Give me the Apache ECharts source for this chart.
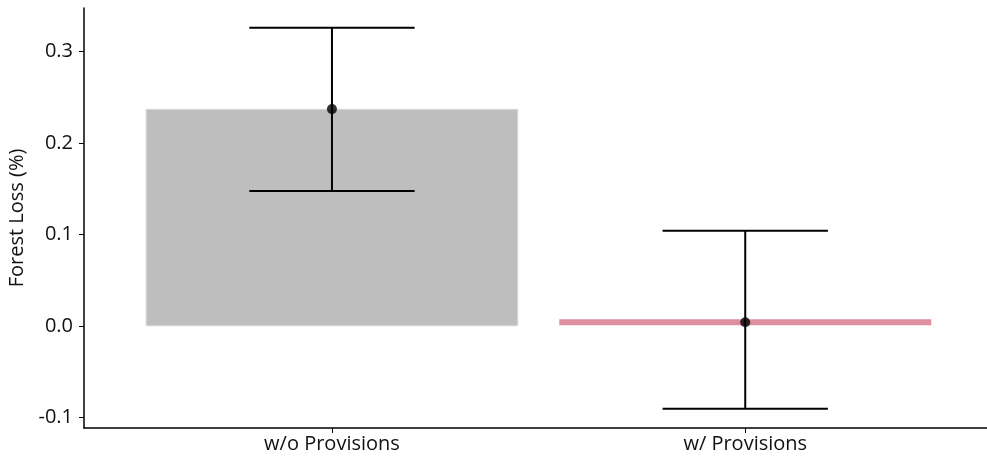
<!DOCTYPE html>
<html>
<head>
<meta charset="utf-8">
<script src="https://cdn.jsdelivr.net/npm/echarts@6/dist/echarts.min.js"></script>
<style>
  html, body { margin: 0; padding: 0; background: #fff; }
  #chart { width: 987px; height: 460px; }
</style>
</head>
<body>
<div id="chart"></div>
<script>
var categories = ['w/o Provisions', 'w/ Provisions'];
var xPos = [1, 2];
var means = [0.237, 0.004];
var lower = [0.1475, -0.0905];
var upper = [0.326, 0.104];
var yTicks = [-0.1, 0.0, 0.1, 0.2, 0.3];

var fontFam = '"Open Sans", sans-serif';

// gray bar for first group, pink segment for the second
function renderBar(params, api) {
    var x = api.value(0);
    var v = api.value(1);
    var idx = params.dataIndex;
    var half = 0.45;
    if (idx === 0) {
        var p1 = api.coord([x - half, v]);
        var p2 = api.coord([x + half, 0]);
        return {
            type: 'rect',
            shape: { x: p1[0], y: p1[1], width: p2[0] - p1[0], height: p2[1] - p1[1] },
            style: { fill: '#bebebe', stroke: '#e6e6e6', lineWidth: 1 }
        };
    }
    var a = api.coord([x - half, v]);
    var b = api.coord([x + half, v]);
    return {
        type: 'rect',
        shape: { x: a[0], y: a[1] - 3, width: b[0] - a[0], height: 6 },
        style: { fill: '#de8f9e' }
    };
}

function renderErr(params, api) {
    var x = api.value(0);
    var lo = api.coord([x, api.value(1)]);
    var hi = api.coord([x, api.value(2)]);
    var capL = api.coord([x - 0.2, 0])[0];
    var capR = api.coord([x + 0.2, 0])[0];
    var st = { stroke: '#000', lineWidth: 2 };
    return {
        type: 'group',
        children: [
            { type: 'line', shape: { x1: lo[0], y1: lo[1], x2: hi[0], y2: hi[1] }, style: st },
            { type: 'line', shape: { x1: capL, y1: lo[1], x2: capR, y2: lo[1] }, style: st },
            { type: 'line', shape: { x1: capL, y1: hi[1], x2: capR, y2: hi[1] }, style: st }
        ]
    };
}

var barData = [], errData = [], ptData = [];
for (var i = 0; i < categories.length; i++) {
    barData.push([xPos[i], means[i]]);
    errData.push([xPos[i], lower[i], upper[i]]);
    ptData.push([xPos[i], means[i]]);
}

var myChart = echarts.init(document.getElementById('chart'));
var option = {
    animation: false,
    grid: { left: 84, right: 0, top: 8, bottom: 32, outerBoundsMode: 'none' },
    xAxis: {
        type: 'value',
        min: 0.4,
        max: 2.585,
        splitLine: { show: false },
        axisLine: { show: true, onZero: false, lineStyle: { color: '#000', width: 1.5 } },
        axisTick: { show: true, customValues: xPos, length: 5, lineStyle: { color: '#000', width: 1 } },
        axisLabel: {
            customValues: xPos,
            color: '#111',
            fontSize: 20,
            fontFamily: fontFam,
            margin: 6,
            formatter: function (v) { return categories[Math.round(v) - 1]; }
        }
    },
    yAxis: {
        type: 'value',
        min: -0.1115,
        max: 0.3475,
        name: 'Forest Loss (%)',
        nameLocation: 'middle',
        nameGap: 56,
        nameRotate: 90,
        nameTextStyle: { color: '#111', fontSize: 20, fontFamily: fontFam },
        splitLine: { show: false },
        axisLine: { show: true, onZero: false, lineStyle: { color: '#000', width: 1.5 } },
        axisTick: { show: true, customValues: yTicks, length: 5, lineStyle: { color: '#000', width: 1 } },
        axisLabel: {
            customValues: yTicks,
            color: '#111',
            fontSize: 20,
            fontFamily: fontFam,
            margin: 11,
            formatter: function (v) { return v.toFixed(1); }
        }
    },
    series: [
        { type: 'custom', renderItem: renderBar, data: barData, z: 1 },
        { type: 'custom', renderItem: renderErr, data: errData, z: 2 },
        {
            type: 'scatter',
            data: ptData,
            symbolSize: 10,
            itemStyle: { color: '#000' },
            z: 3
        }
    ]
};
myChart.setOption(option);
</script>
</body>
</html>
